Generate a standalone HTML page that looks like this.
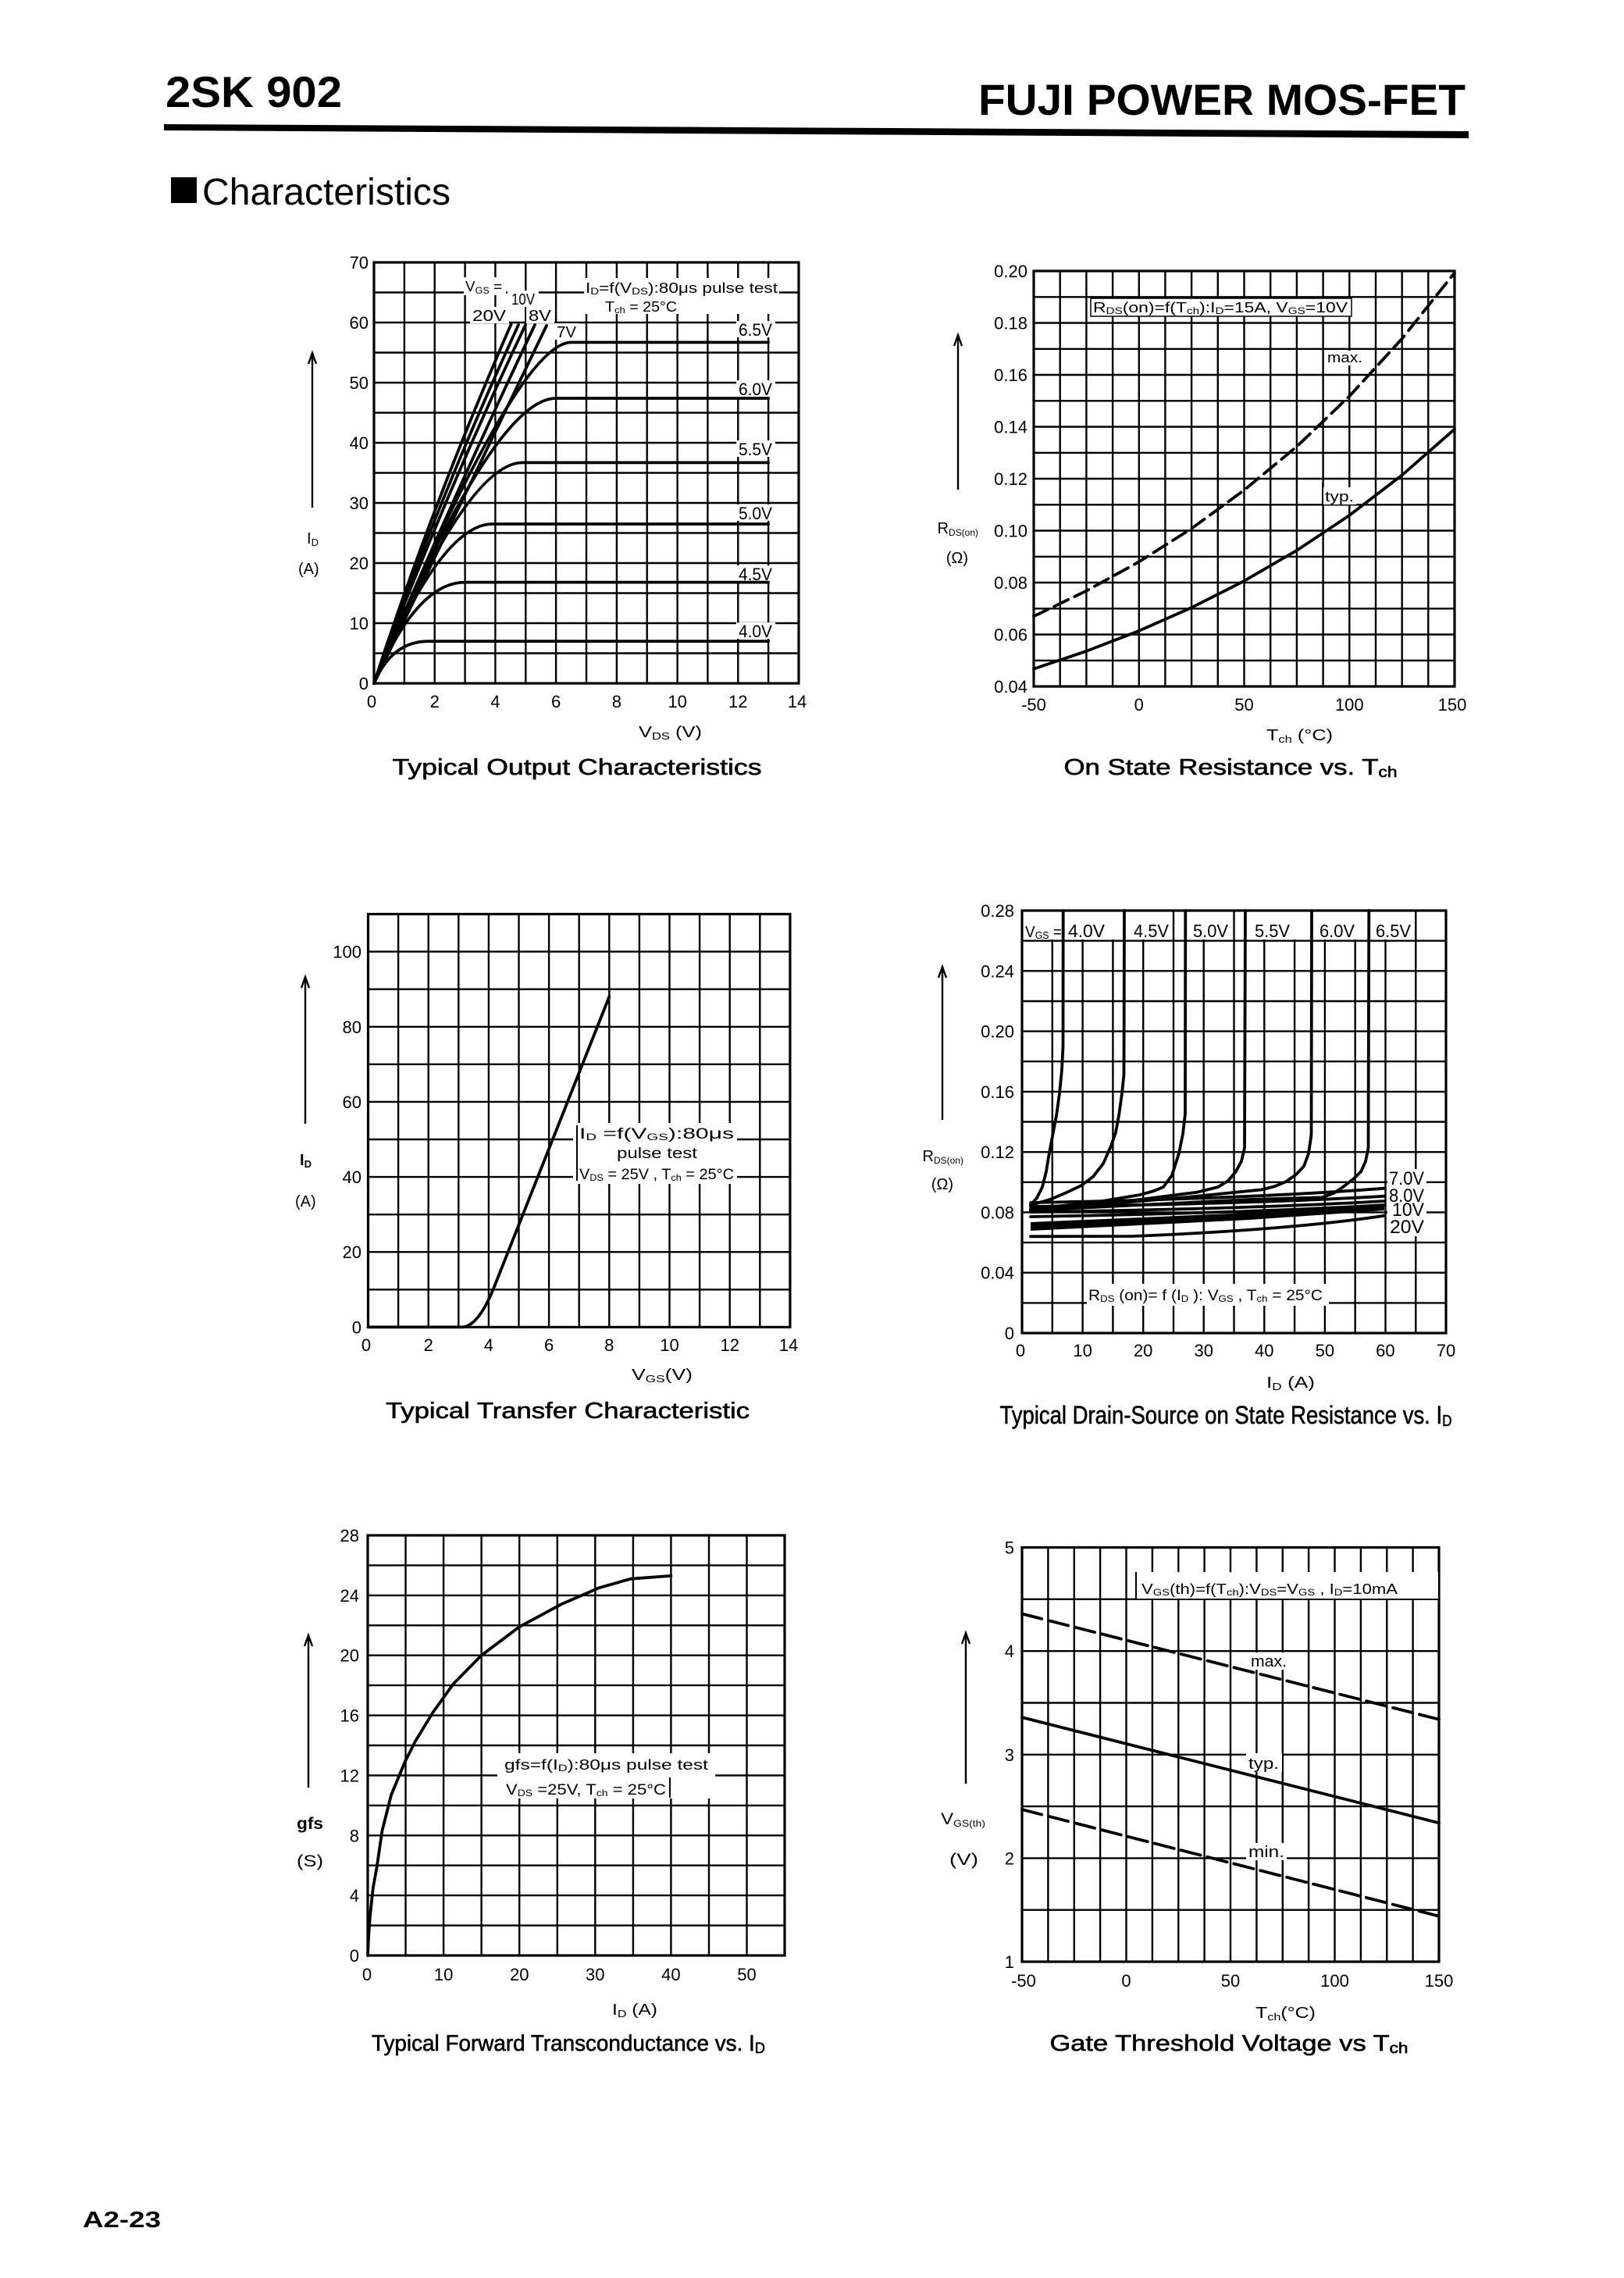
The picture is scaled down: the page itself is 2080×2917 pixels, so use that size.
<!DOCTYPE html>
<html><head><meta charset="utf-8"><style>
html,body{margin:0;padding:0;background:#fff;}
svg{display:block;}
text{font-family:"Liberation Sans",Arial,sans-serif;fill:#000;}
.g{stroke:#000;stroke-width:2.4;fill:none;}
.b{stroke:#000;stroke-width:3.2;fill:none;}
.c{stroke:#000;stroke-width:3.8;fill:none;stroke-linejoin:round;stroke-linecap:round;}
.t{font-size:22px;}
.ty{font-size:22px;text-anchor:end;}
.tx{font-size:22px;text-anchor:middle;}
.w{fill:#fff;stroke:none;}
.tt{stroke:#000;stroke-width:0.6;}
</style></head><body>
<svg width="2080" height="2917" viewBox="0 0 2080 2917" xmlns="http://www.w3.org/2000/svg">
<rect x="0" y="0" width="2080" height="2917" fill="#fff"/>

<!-- HEADER -->
<text x="212" y="137" font-size="56" font-weight="bold" textLength="226" lengthAdjust="spacingAndGlyphs">2SK 902</text>
<text x="1253" y="147" font-size="56" font-weight="bold" textLength="624" lengthAdjust="spacingAndGlyphs">FUJI POWER MOS-FET</text>
<polygon points="210,159 1881,168 1881,177 210,167" fill="#000"/>
<rect x="219" y="227" width="33" height="33" fill="#000"/>
<text x="259" y="262" font-size="48" textLength="318" lengthAdjust="spacingAndGlyphs">Characteristics</text>

<!-- ============ CHART 1: Typical Output Characteristics ============ -->
<path class="g" d="M517.9,336V875M556.7,336V875M595.6,336V875M634.4,336V875M673.3,336V875M712.1,336V875M751,336V875M789.9,336V875M828.7,336V875M867.6,336V875M906.4,336V875M945.3,336V875M984.1,336V875
M479,374.5H1023M479,413H1023M479,451.5H1023M479,490H1023M479,528.5H1023M479,567H1023M479,605.5H1023M479,644H1023M479,682.5H1023M479,721H1023M479,759.5H1023M479,798H1023M479,836.5H1023"/>
<rect class="b" x="479" y="336" width="544" height="539"/>
<rect class="w" x="594" y="355" width="54" height="23"/>
<rect class="w" x="650" y="372" width="40" height="21"/>
<rect class="w" x="602" y="393" width="50" height="21"/>
<rect class="w" x="674" y="393" width="36" height="21"/>
<rect class="w" x="710" y="414" width="32" height="21"/>
<rect class="w" x="748" y="356" width="250" height="46"/>
<rect class="w" x="943" y="411" width="50" height="21"/>
<rect class="w" x="943" y="487" width="50" height="21"/>
<rect class="w" x="943" y="564" width="50" height="21"/>
<rect class="w" x="943" y="646" width="50" height="21"/>
<rect class="w" x="943" y="724" width="50" height="21"/>
<rect class="w" x="943" y="797" width="50" height="21"/>
<path class="c" d="M479,875 Q501.7,821.1 548.9,821.1 L984.1,821.1"/>
<path class="c" d="M479,875 Q533.4,745.6 595.6,745.6 L984.1,745.6"/>
<path class="c" d="M479,875 Q564.9,671 630.5,671 L984.1,671"/>
<path class="c" d="M479,875 Q597.9,592.4 669.4,592.4 L984.1,592.4"/>
<path class="c" d="M479,875 Q632.5,510 712.1,510 L984.1,510"/>
<path class="c" d="M479,875 Q662.4,438.4 731.6,438.4 L984.1,438.4"/>
<path class="c" d="M479,875 Q554,645 654.6,415.3"/>
<path class="c" d="M479,875 Q558.7,645.5 664,416"/>
<path class="c" d="M479,875 Q564.5,645.5 673,416"/>
<path class="c" d="M479,875 Q576.2,645.5 685,416"/>
<path class="c" d="M479,875 Q589.7,645.5 700,417"/>
<text x="596" y="373" font-size="18" textLength="47" lengthAdjust="spacingAndGlyphs">V<tspan font-size="12" dy="3">GS</tspan><tspan dy="-3"> =</tspan></text>
<text x="655" y="390" font-size="20" textLength="30" lengthAdjust="spacingAndGlyphs">10V</text>
<text x="605" y="411" font-size="20" textLength="43" lengthAdjust="spacingAndGlyphs">20V</text>
<text x="677" y="411" font-size="20" textLength="29" lengthAdjust="spacingAndGlyphs">8V</text>
<text x="713" y="432" font-size="20" textLength="25" lengthAdjust="spacingAndGlyphs">7V</text>
<text x="750" y="375" font-size="18" textLength="246" lengthAdjust="spacingAndGlyphs">I<tspan font-size="12" dy="2">D</tspan><tspan dy="-2">=f(V</tspan><tspan font-size="12" dy="2">DS</tspan><tspan dy="-2">):80μs pulse test</tspan></text>
<text x="775" y="399" font-size="18" textLength="92" lengthAdjust="spacingAndGlyphs">T<tspan font-size="12" dy="2">ch</tspan><tspan dy="-2"> = 25°C</tspan></text>
<text x="946" y="430" font-size="22" textLength="43" lengthAdjust="spacingAndGlyphs">6.5V</text>
<text x="946" y="506" font-size="22" textLength="43" lengthAdjust="spacingAndGlyphs">6.0V</text>
<text x="946" y="583" font-size="22" textLength="43" lengthAdjust="spacingAndGlyphs">5.5V</text>
<text x="946" y="665" font-size="22" textLength="43" lengthAdjust="spacingAndGlyphs">5.0V</text>
<text x="946" y="743" font-size="22" textLength="43" lengthAdjust="spacingAndGlyphs">4.5V</text>
<text x="946" y="816" font-size="22" textLength="43" lengthAdjust="spacingAndGlyphs">4.0V</text>
<text class="ty" x="472" y="883">0</text>
<text class="ty" x="472" y="806">10</text>
<text class="ty" x="472" y="729">20</text>
<text class="ty" x="472" y="652">30</text>
<text class="ty" x="472" y="575">40</text>
<text class="ty" x="472" y="498">50</text>
<text class="ty" x="472" y="421">60</text>
<text class="ty" x="472" y="344">70</text>
<text class="tx" x="476" y="906">0</text>
<text class="tx" x="556.7" y="906">2</text>
<text class="tx" x="634.4" y="906">4</text>
<text class="tx" x="712.1" y="906">6</text>
<text class="tx" x="789.9" y="906">8</text>
<text class="tx" x="867.6" y="906">10</text>
<text class="tx" x="945.3" y="906">12</text>
<text class="tx" x="1021" y="906">14</text>
<text x="818" y="944" font-size="20" textLength="81" lengthAdjust="spacingAndGlyphs">V<tspan font-size="13" dy="3">DS</tspan><tspan dy="-3"> (V)</tspan></text>
<text x="393" y="696" font-size="20">I<tspan font-size="13" dy="3">D</tspan></text>
<text x="382" y="735" font-size="20">(A)</text>
<path class="g" d="M400,650V452M395,466L400,452L405,466"/>
<text class="tt" x="739" y="992" font-size="29" text-anchor="middle" textLength="473" lengthAdjust="spacingAndGlyphs">Typical Output Characteristics</text>

<!-- ============ CHART 2: On State Resistance vs Tch ============ -->
<path class="g" d="M1357.7,347V879M1391.4,347V879M1425.1,347V879M1458.8,347V879M1492.4,347V879M1526.1,347V879M1559.8,347V879M1593.5,347V879M1627.2,347V879M1660.9,347V879M1694.6,347V879M1728.3,347V879M1762,347V879M1795.7,347V879M1829.3,347V879
M1324,380.3H1863M1324,413.5H1863M1324,446.8H1863M1324,480H1863M1324,513.3H1863M1324,546.5H1863M1324,579.8H1863M1324,613H1863M1324,646.3H1863M1324,679.5H1863M1324,712.8H1863M1324,746H1863M1324,779.3H1863M1324,812.5H1863M1324,845.8H1863"/>
<rect class="b" x="1324" y="347" width="539" height="532"/>
<rect class="w" x="1397" y="382" width="334" height="23"/>
<rect x="1397" y="382" width="334" height="23" fill="none" stroke="#000" stroke-width="1.5"/>
<rect class="w" x="1697" y="449" width="52" height="19"/>
<rect class="w" x="1693" y="624" width="44" height="22"/>
<path class="c" stroke-dasharray="20 9" d="M1324,789.2 L1391.4,756.6 L1458.8,719.4 L1526.1,676.8 L1593.5,627.6 L1660.9,571.8 L1728.3,507.3 L1795.6,433.8 L1863,349.3"/>
<path class="c" d="M1324,856.5 L1391.4,833.8 L1458.8,807.8 L1526.1,778.1 L1593.5,743.9 L1660.9,704.8 L1728.3,659.9 L1795.6,608.5 L1863,549.6"/>
<text x="1400" y="400" font-size="18" textLength="326" lengthAdjust="spacingAndGlyphs">R<tspan font-size="12" dy="2">DS</tspan><tspan dy="-2">(on)=f(T</tspan><tspan font-size="12" dy="2">ch</tspan><tspan dy="-2">):I</tspan><tspan font-size="12" dy="2">D</tspan><tspan dy="-2">=15A, V</tspan><tspan font-size="12" dy="2">GS</tspan><tspan dy="-2">=10V</tspan></text>
<text x="1700" y="464" font-size="18" textLength="45" lengthAdjust="spacingAndGlyphs">max.</text>
<line x1="1694" y1="618" x2="1694" y2="646" stroke="#000" stroke-width="2"/>
<text x="1697" y="642" font-size="18" textLength="37" lengthAdjust="spacingAndGlyphs">typ.</text>
<text class="ty" x="1316" y="887">0.04</text>
<text class="ty" x="1316" y="820.5">0.06</text>
<text class="ty" x="1316" y="754">0.08</text>
<text class="ty" x="1316" y="687.5">0.10</text>
<text class="ty" x="1316" y="621">0.12</text>
<text class="ty" x="1316" y="554.5">0.14</text>
<text class="ty" x="1316" y="488">0.16</text>
<text class="ty" x="1316" y="421.5">0.18</text>
<text class="ty" x="1316" y="355">0.20</text>
<text class="tx" x="1324" y="910">-50</text>
<text class="tx" x="1458.8" y="910">0</text>
<text class="tx" x="1593.5" y="910">50</text>
<text class="tx" x="1728.3" y="910">100</text>
<text class="tx" x="1860" y="910">150</text>
<text x="1622" y="948" font-size="20" textLength="85" lengthAdjust="spacingAndGlyphs">T<tspan font-size="13" dy="3">ch</tspan><tspan dy="-3"> (°C)</tspan></text>
<text x="1253" y="683" font-size="20" text-anchor="end">R<tspan font-size="12" dy="3">DS(on)</tspan></text>
<text x="1240" y="721" font-size="20" text-anchor="end">(Ω)</text>
<path class="g" d="M1227,627V429M1222,443L1227,429L1232,443"/>
<text class="tt" x="1576" y="992" font-size="29" text-anchor="middle" textLength="427" lengthAdjust="spacingAndGlyphs">On State Resistance vs. T<tspan font-size="19" dy="3">ch</tspan></text>

<!-- ============ CHART 3: Typical Transfer Characteristic ============ -->
<path class="g" d="M510.1,1170.5V1699.4M548.7,1170.5V1699.4M587.3,1170.5V1699.4M625.9,1170.5V1699.4M664.5,1170.5V1699.4M703.1,1170.5V1699.4M741.7,1170.5V1699.4M780.3,1170.5V1699.4M818.9,1170.5V1699.4M857.5,1170.5V1699.4M896.1,1170.5V1699.4M934.7,1170.5V1699.4M973.3,1170.5V1699.4
M471.5,1651.3H1011.9M471.5,1603.2H1011.9M471.5,1555.2H1011.9M471.5,1507.1H1011.9M471.5,1459H1011.9M471.5,1410.9H1011.9M471.5,1362.8H1011.9M471.5,1314.8H1011.9M471.5,1266.7H1011.9M471.5,1218.6H1011.9"/>
<rect class="b" x="471.5" y="1170.5" width="540.4" height="528.9"/>
<rect class="w" x="734" y="1438" width="210" height="78"/>
<line x1="739" y1="1441" x2="739" y2="1512" stroke="#000" stroke-width="2"/>
<path class="c" d="M471.5,1699.4 L591.2,1699.4 Q612.6,1699.4 633.6,1646.3 L780.3,1276.3"/>
<text x="742" y="1458" font-size="19" textLength="198" lengthAdjust="spacingAndGlyphs">I<tspan font-size="12" dy="2">D</tspan><tspan dy="-2"> =f(V</tspan><tspan font-size="12" dy="2">GS</tspan><tspan dy="-2">):80μs</tspan></text>
<text x="790" y="1483" font-size="19" textLength="103" lengthAdjust="spacingAndGlyphs">pulse test</text>
<text x="742" y="1510" font-size="19" textLength="198" lengthAdjust="spacingAndGlyphs">V<tspan font-size="12" dy="2">DS</tspan><tspan dy="-2"> = 25V , T</tspan><tspan font-size="12" dy="2">ch</tspan><tspan dy="-2"> = 25°C</tspan></text>
<text class="ty" x="463" y="1707.4">0</text>
<text class="ty" x="463" y="1611.2">20</text>
<text class="ty" x="463" y="1515.1">40</text>
<text class="ty" x="463" y="1418.9">60</text>
<text class="ty" x="463" y="1322.8">80</text>
<text class="ty" x="463" y="1226.6">100</text>
<text class="tx" x="469" y="1730">0</text>
<text class="tx" x="548.7" y="1730">2</text>
<text class="tx" x="625.9" y="1730">4</text>
<text class="tx" x="703.1" y="1730">6</text>
<text class="tx" x="780.3" y="1730">8</text>
<text class="tx" x="857.5" y="1730">10</text>
<text class="tx" x="934.7" y="1730">12</text>
<text class="tx" x="1010" y="1730">14</text>
<text x="809" y="1767" font-size="20" textLength="78" lengthAdjust="spacingAndGlyphs">V<tspan font-size="13" dy="3">GS</tspan><tspan dy="-3">(V)</tspan></text>
<text x="384" y="1492" font-size="20" font-weight="bold">I<tspan font-size="13" dy="3">D</tspan></text>
<text x="378" y="1545" font-size="20">(A)</text>
<path class="g" d="M391,1439V1251M386,1265L391,1251L396,1265"/>
<text class="tt" x="727" y="1816" font-size="29" text-anchor="middle" textLength="466" lengthAdjust="spacingAndGlyphs">Typical Transfer Characteristic</text>

<!-- ============ CHART 4: Rds(on) vs Id ============ -->
<path class="g" d="M1347.8,1166V1707M1386.6,1166V1707M1425.4,1166V1707M1464.2,1166V1707M1503,1166V1707M1541.7,1166V1707M1580.5,1166V1707M1619.3,1166V1707M1658.1,1166V1707M1696.9,1166V1707M1735.7,1166V1707M1774.5,1166V1707M1813.3,1166V1707
M1309,1668.4H1852M1309,1629.7H1852M1309,1591.1H1852M1309,1552.4H1852M1309,1513.8H1852M1309,1475.2H1852M1309,1436.5H1852M1309,1397.9H1852M1309,1359.2H1852M1309,1320.6H1852M1309,1282H1852M1309,1243.3H1852M1309,1204.7H1852"/>
<rect class="w" x="1310" y="1167" width="495" height="36"/>
<path class="g" d="M1503,1166V1204M1580.5,1166V1204"/>
<rect class="b" x="1309" y="1166" width="543" height="541"/>
<rect class="w" x="1392" y="1644" width="310" height="28"/>
<rect class="w" x="1777" y="1497" width="50" height="86"/>
<polyline class="c" points="1320,1543 1328,1534 1335,1520 1340,1500 1343.3,1480 1348,1455 1353.3,1426.7 1357,1400 1360,1370 1361.5,1340 1361.7,1166"/>
<polyline class="c" points="1320,1543 1345,1536 1366.7,1526.7 1385,1518 1400,1506.7 1413,1490 1423.3,1466.7 1429,1450 1433.3,1426.7 1437,1400 1439.5,1376 1440,1166"/>
<polyline class="c" points="1320,1548 1400,1540 1460,1530 1478,1525 1490,1520 1501,1505 1510,1476.7 1515,1452 1518,1426.7 1518.3,1166"/>
<polyline class="c" points="1320,1550 1460,1536 1533,1526.7 1548,1523 1560,1520 1573,1512 1583,1500 1590,1487 1594,1470 1595,1166"/>
<polyline class="c" points="1320,1550 1520,1533 1616.7,1523.3 1633,1519 1646.7,1513.3 1660,1504 1670,1493.3 1676,1477 1679.5,1453.3 1680,1166"/>
<polyline class="c" points="1320,1550 1600,1536 1693.3,1533.3 1708,1528 1720,1520 1733,1510 1743.3,1500 1749,1487 1752.5,1470 1753.3,1166"/>
<path class="c" d="M1320,1540 Q1600,1535 1773,1521.7"/>
<path class="c" d="M1320,1545 Q1600,1542 1773,1531.7"/>
<path class="c" d="M1320,1552 Q1600,1548 1773,1538"/>
<path class="c" d="M1320,1558 Q1600,1553 1773,1543"/>
<polygon points="1320,1565 1600,1553 1773,1543 1773,1550 1600,1562 1320,1576" fill="#000"/>
<path class="c" d="M1320,1583.3 L1450,1583 Q1650,1575 1773,1556.7"/>
<text x="1313" y="1200" font-size="20" textLength="47" lengthAdjust="spacingAndGlyphs">V<tspan font-size="13" dy="2">GS</tspan><tspan dy="-2"> =</tspan></text>
<text x="1368" y="1200" font-size="23" textLength="47" lengthAdjust="spacingAndGlyphs">4.0V</text>
<text x="1452" y="1200" font-size="23" textLength="45" lengthAdjust="spacingAndGlyphs">4.5V</text>
<text x="1528" y="1200" font-size="23" textLength="45" lengthAdjust="spacingAndGlyphs">5.0V</text>
<text x="1607" y="1200" font-size="23" textLength="45" lengthAdjust="spacingAndGlyphs">5.5V</text>
<text x="1690" y="1200" font-size="23" textLength="45" lengthAdjust="spacingAndGlyphs">6.0V</text>
<text x="1762" y="1200" font-size="23" textLength="45" lengthAdjust="spacingAndGlyphs">6.5V</text>
<text x="1779" y="1517" font-size="24" textLength="45" lengthAdjust="spacingAndGlyphs">7.0V</text>
<text x="1779" y="1539" font-size="24" textLength="45" lengthAdjust="spacingAndGlyphs">8.0V</text>
<text x="1783" y="1557" font-size="24" textLength="41" lengthAdjust="spacingAndGlyphs">10V</text>
<text x="1780" y="1579" font-size="24" textLength="44" lengthAdjust="spacingAndGlyphs">20V</text>
<text x="1394" y="1665" font-size="19" textLength="300" lengthAdjust="spacingAndGlyphs">R<tspan font-size="12" dy="2">DS</tspan><tspan dy="-2"> (on)= f (I</tspan><tspan font-size="12" dy="2">D</tspan><tspan dy="-2"> ): V</tspan><tspan font-size="12" dy="2">GS</tspan><tspan dy="-2"> , T</tspan><tspan font-size="12" dy="2">ch</tspan><tspan dy="-2"> = 25°C</tspan></text>
<text class="ty" x="1299" y="1715">0</text>
<text class="ty" x="1299" y="1637.7">0.04</text>
<text class="ty" x="1299" y="1560.4">0.08</text>
<text class="ty" x="1299" y="1483.2">0.12</text>
<text class="ty" x="1299" y="1405.9">0.16</text>
<text class="ty" x="1299" y="1328.6">0.20</text>
<text class="ty" x="1299" y="1251.3">0.24</text>
<text class="ty" x="1299" y="1174">0.28</text>
<text class="tx" x="1307" y="1737">0</text>
<text class="tx" x="1386.6" y="1737">10</text>
<text class="tx" x="1464.1" y="1737">20</text>
<text class="tx" x="1541.7" y="1737">30</text>
<text class="tx" x="1619.3" y="1737">40</text>
<text class="tx" x="1696.9" y="1737">50</text>
<text class="tx" x="1774.4" y="1737">60</text>
<text class="tx" x="1852" y="1737">70</text>
<text x="1622" y="1777" font-size="20" textLength="62" lengthAdjust="spacingAndGlyphs">I<tspan font-size="13" dy="3">D</tspan><tspan dy="-3"> (A)</tspan></text>
<text x="1234" y="1487" font-size="20" text-anchor="end">R<tspan font-size="12" dy="3">DS(on)</tspan></text>
<text x="1221" y="1523" font-size="20" text-anchor="end">(Ω)</text>
<path class="g" d="M1207,1434V1238M1202,1252L1207,1238L1212,1252"/>
<text class="tt" x="1570" y="1823" font-size="32" text-anchor="middle" textLength="579" lengthAdjust="spacingAndGlyphs">Typical Drain-Source on State Resistance vs. I<tspan font-size="20" dy="3">D</tspan></text>

<!-- ============ CHART 5: gfs vs Id ============ -->
<path class="g" d="M519.5,1966V2504M568.1,1966V2504M616.6,1966V2504M665.2,1966V2504M713.8,1966V2504M762.3,1966V2504M810.9,1966V2504M859.4,1966V2504M908,1966V2504M956.5,1966V2504
M471,2465.6H1005M471,2427.1H1005M471,2388.7H1005M471,2350.3H1005M471,2311.9H1005M471,2273.4H1005M471,2235H1005M471,2196.6H1005M471,2158.1H1005M471,2119.7H1005M471,2081.3H1005M471,2042.9H1005M471,2004.4H1005"/>
<rect class="b" x="471" y="1966" width="534" height="538"/>
<rect class="w" x="637" y="2245" width="279" height="58"/>
<line x1="858" y1="2276" x2="858" y2="2302" stroke="#000" stroke-width="2"/>
<polyline class="c" points="471,2504 472,2480.9 473.9,2454 477.8,2417.5 482.7,2390.6 489.4,2344.5 501.1,2298.4 518.6,2256.1 532.2,2229.2 554.5,2192.7 580.7,2156.2 616.6,2119.7 665.2,2083.2 718.6,2054.4 767.1,2033.3 807.9,2021.7 859.4,2017.9"/>
<text x="646" y="2266" font-size="18" textLength="261" lengthAdjust="spacingAndGlyphs">gfs=f(I<tspan font-size="12" dy="2">D</tspan><tspan dy="-2">):80μs  pulse  test</tspan></text>
<text x="648" y="2298" font-size="19" textLength="205" lengthAdjust="spacingAndGlyphs">V<tspan font-size="12" dy="2">DS</tspan><tspan dy="-2"> =25V, T</tspan><tspan font-size="12" dy="2">ch</tspan><tspan dy="-2"> = 25°C</tspan></text>
<text class="ty" x="460" y="2512">0</text>
<text class="ty" x="460" y="2435.1">4</text>
<text class="ty" x="460" y="2358.3">8</text>
<text class="ty" x="460" y="2281.4">12</text>
<text class="ty" x="460" y="2204.6">16</text>
<text class="ty" x="460" y="2127.7">20</text>
<text class="ty" x="460" y="2050.9">24</text>
<text class="ty" x="460" y="1974">28</text>
<text class="tx" x="470" y="2536">0</text>
<text class="tx" x="568.1" y="2536">10</text>
<text class="tx" x="665.2" y="2536">20</text>
<text class="tx" x="762.3" y="2536">30</text>
<text class="tx" x="859.4" y="2536">40</text>
<text class="tx" x="956.5" y="2536">50</text>
<text x="784" y="2580" font-size="20" textLength="58" lengthAdjust="spacingAndGlyphs">I<tspan font-size="13" dy="3">D</tspan><tspan dy="-3"> (A)</tspan></text>
<text x="380" y="2342" font-size="21" font-weight="bold" textLength="34" lengthAdjust="spacingAndGlyphs">gfs</text>
<text x="380" y="2390" font-size="21" textLength="34" lengthAdjust="spacingAndGlyphs">(S)</text>
<path class="g" d="M395,2289V2094M390,2108L395,2094L400,2108"/>
<text class="tt" x="728" y="2626" font-size="29" text-anchor="middle" textLength="504" lengthAdjust="spacingAndGlyphs">Typical Forward Transconductance vs. I<tspan font-size="19" dy="3">D</tspan></text>

<!-- ============ CHART 6: Gate Threshold Voltage ============ -->
<path class="g" d="M1342.4,1981.5V2512M1375.8,1981.5V2512M1409.1,1981.5V2512M1442.5,1981.5V2512M1475.9,1981.5V2512M1509.3,1981.5V2512M1542.6,1981.5V2512M1576,1981.5V2512M1609.4,1981.5V2512M1642.8,1981.5V2512M1676.1,1981.5V2512M1709.5,1981.5V2512M1742.9,1981.5V2512M1776.3,1981.5V2512M1809.6,1981.5V2512
M1309,2445.7H1843M1309,2379.4H1843M1309,2313.1H1843M1309,2246.8H1843M1309,2180.5H1843M1309,2114.2H1843M1309,2047.8H1843"/>
<rect class="b" x="1309" y="1981.5" width="534" height="530.5"/>
<rect class="w" x="1456" y="2013" width="386" height="34"/>
<line x1="1455" y1="2013" x2="1455" y2="2048" stroke="#000" stroke-width="2"/>
<rect class="w" x="1599" y="2116" width="52" height="22"/>
<rect class="w" x="1596" y="2245" width="46" height="24"/>
<rect class="w" x="1596" y="2360" width="52" height="22"/>
<path class="c" stroke-dasharray="26 9" d="M1309,2066.5 L1843,2201.7"/>
<path class="c" d="M1309,2199.1 L1843,2334.3"/>
<path class="c" stroke-dasharray="26 9" d="M1309,2317.1 L1843,2453.7"/>
<text x="1462" y="2041" font-size="18" textLength="328" lengthAdjust="spacingAndGlyphs">V<tspan font-size="12" dy="2">GS</tspan><tspan dy="-2">(th)=f(T</tspan><tspan font-size="12" dy="2">ch</tspan><tspan dy="-2">):V</tspan><tspan font-size="12" dy="2">DS</tspan><tspan dy="-2">=V</tspan><tspan font-size="12" dy="2">GS</tspan><tspan dy="-2"> , I</tspan><tspan font-size="12" dy="2">D</tspan><tspan dy="-2">=10mA</tspan></text>
<text x="1602" y="2134" font-size="20" textLength="46" lengthAdjust="spacingAndGlyphs">max.</text>
<text x="1599" y="2265" font-size="20" textLength="39" lengthAdjust="spacingAndGlyphs">typ.</text>
<text x="1599" y="2378" font-size="20" textLength="46" lengthAdjust="spacingAndGlyphs">min.</text>
<text class="ty" x="1299" y="2520">1</text>
<text class="ty" x="1299" y="2387.4">2</text>
<text class="ty" x="1299" y="2254.8">3</text>
<text class="ty" x="1299" y="2122.2">4</text>
<text class="ty" x="1299" y="1989.6">5</text>
<text class="tx" x="1311" y="2544">-50</text>
<text class="tx" x="1442.5" y="2544">0</text>
<text class="tx" x="1576" y="2544">50</text>
<text class="tx" x="1709.5" y="2544">100</text>
<text class="tx" x="1843" y="2544">150</text>
<text x="1608" y="2584" font-size="20" textLength="77" lengthAdjust="spacingAndGlyphs">T<tspan font-size="13" dy="3">ch</tspan><tspan dy="-3">(°C)</tspan></text>
<text x="1205" y="2336" font-size="21" textLength="57" lengthAdjust="spacingAndGlyphs">V<tspan font-size="12" dy="3">GS(th)</tspan></text>
<text x="1216" y="2388" font-size="21" textLength="37" lengthAdjust="spacingAndGlyphs">(V)</text>
<path class="g" d="M1237,2284V2091M1232,2105L1237,2091L1242,2105"/>
<text class="tt" x="1574" y="2626" font-size="29" text-anchor="middle" textLength="459" lengthAdjust="spacingAndGlyphs">Gate Threshold Voltage vs T<tspan font-size="19" dy="3">ch</tspan></text>

<!-- FOOTER -->
<text x="106" y="2852" font-size="29" font-weight="bold" textLength="100" lengthAdjust="spacingAndGlyphs">A2-23</text>
</svg>
</body></html>
